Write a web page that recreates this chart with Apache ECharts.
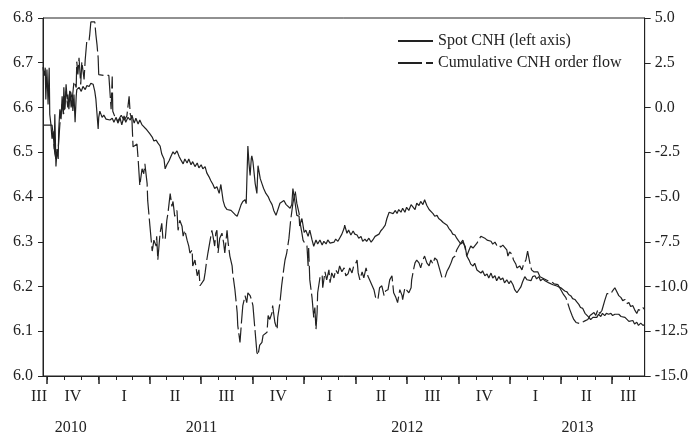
<!DOCTYPE html>
<html>
<head>
<meta charset="utf-8">
<script src="https://cdn.jsdelivr.net/npm/echarts@6/dist/echarts.min.js"></script>
<style>
html, body { margin: 0; padding: 0; background: #fff; }
#chart { width: 691px; height: 436px; }
</style>
</head>
<body>
<div id="chart"></div>
<script>
// first and last day shown on the chart
var firstDay = '2010-09-24';
var lastDay = '2013-08-28';

// spot CNH, [days since 24 Sep 2010, CNH per USD]
var spotCnh = [
  [0,6.690],[2,6.671],[4,6.689],[5,6.618],[7,6.685],[9,6.607],[11,6.689],[12,6.585],[14,6.563],[16,6.530],
  [18,6.547],[20,6.507],[21,6.585],[23,6.468],[25,6.507],[27,6.485],[28,6.552],[30,6.596],[32,6.574],[34,6.625],
  [36,6.585],[37,6.645],[39,6.596],[41,6.652],[43,6.618],[44,6.629],[46,6.596],[48,6.636],[50,6.600],[52,6.623],
  [53,6.592],[55,6.629],[57,6.567],[59,6.625],[60,6.640],[64,6.645],[68,6.636],[71,6.647],[75,6.640],[78,6.649],
  [82,6.647],[85,6.654],[87,6.658],[89,6.652],[92,6.636],[94,6.618],[96,6.585],[98,6.552],[99,6.578],[101,6.592],
  [105,6.578],[108,6.583],[112,6.574],[115,6.578],[119,6.572],[123,6.576],[126,6.567],[130,6.578],[133,6.565],[137,6.576],
  [140,6.561],[144,6.581],[147,6.567],[151,6.578],[155,6.572],[158,6.583],[162,6.565],[165,6.576],[169,6.563],[172,6.572],
  [176,6.561],[179,6.565],[183,6.552],[186,6.556],[190,6.541],[194,6.534],[197,6.525],[201,6.527],[204,6.521],[208,6.514],
  [211,6.496],[215,6.485],[217,6.463],[220,6.472],[224,6.481],[227,6.490],[231,6.501],[234,6.496],[238,6.503],[242,6.490],
  [245,6.483],[249,6.474],[252,6.485],[256,6.476],[259,6.485],[263,6.472],[266,6.479],[270,6.468],[274,6.476],[277,6.465],
  [281,6.472],[284,6.463],[288,6.468],[291,6.454],[295,6.445],[298,6.437],[302,6.428],[305,6.419],[309,6.423],[313,6.408],
  [316,6.428],[320,6.392],[323,6.379],[327,6.372],[330,6.368],[334,6.370],[337,6.366],[341,6.361],[345,6.357],[348,6.368],
  [352,6.383],[355,6.390],[359,6.394],[361,6.385],[364,6.514],[366,6.474],[368,6.448],[370,6.485],[371,6.492],[373,6.479],
  [377,6.430],[380,6.408],[382,6.470],[386,6.441],[389,6.430],[392,6.419],[396,6.408],[400,6.401],[403,6.392],[407,6.383],
  [410,6.370],[414,6.359],[417,6.363],[421,6.386],[424,6.390],[428,6.392],[432,6.383],[435,6.379],[439,6.375],[442,6.383],
  [444,6.419],[448,6.386],[451,6.359],[455,6.357],[456,6.335],[460,6.352],[464,6.321],[467,6.326],[471,6.312],[474,6.326],
  [478,6.304],[481,6.290],[485,6.304],[488,6.295],[492,6.304],[496,6.293],[499,6.301],[503,6.295],[506,6.304],[510,6.297],
  [513,6.301],[517,6.299],[520,6.306],[524,6.301],[527,6.308],[531,6.317],[535,6.330],[536,6.337],[540,6.319],[543,6.326],
  [547,6.315],[551,6.324],[554,6.317],[558,6.315],[561,6.308],[565,6.312],[568,6.301],[572,6.306],[575,6.301],[579,6.308],
  [583,6.299],[586,6.304],[590,6.312],[593,6.308],[597,6.317],[600,6.324],[604,6.330],[608,6.337],[611,6.352],[615,6.366],
  [618,6.368],[622,6.363],[626,6.370],[629,6.363],[632,6.372],[636,6.366],[639,6.375],[643,6.366],[646,6.377],[650,6.370],
  [654,6.383],[657,6.379],[661,6.372],[664,6.386],[668,6.381],[671,6.390],[675,6.383],[678,6.394],[682,6.381],[686,6.372],
  [689,6.368],[693,6.363],[696,6.357],[700,6.359],[703,6.352],[707,6.348],[711,6.343],[714,6.339],[718,6.337],[721,6.330],
  [725,6.324],[728,6.317],[732,6.315],[735,6.308],[739,6.301],[742,6.295],[746,6.299],[750,6.290],[753,6.268],[757,6.259],
  [760,6.250],[764,6.246],[767,6.252],[771,6.237],[774,6.241],[778,6.230],[781,6.235],[785,6.224],[789,6.228],[792,6.219],
  [796,6.230],[799,6.219],[803,6.224],[806,6.213],[810,6.222],[813,6.215],[817,6.219],[820,6.208],[824,6.215],[828,6.206],
  [831,6.213],[835,6.204],[838,6.193],[842,6.186],[845,6.190],[849,6.199],[852,6.210],[856,6.222],[860,6.215],[863,6.219],
  [867,6.213],[870,6.222],[874,6.224],[877,6.217],[881,6.222],[884,6.213],[888,6.217],[892,6.213],[895,6.215],[899,6.208],
  [902,6.210],[906,6.204],[909,6.206],[913,6.201],[916,6.204],[920,6.197],[923,6.195],[927,6.190],[931,6.188],[934,6.182],
  [938,6.179],[941,6.173],[945,6.171],[948,6.166],[952,6.160],[955,6.153],[959,6.151],[963,6.140],[966,6.142],[970,6.131],
  [973,6.126],[977,6.131],[980,6.135],[984,6.131],[987,6.138],[991,6.133],[994,6.140],[998,6.135],[1001,6.140],[1005,6.138],
  [1009,6.140],[1012,6.135],[1016,6.138],[1019,6.135],[1023,6.138],[1027,6.133],[1030,6.135],[1034,6.131],[1037,6.129],[1041,6.122],
  [1044,6.118],[1048,6.124],[1051,6.116],[1055,6.120],[1058,6.113],[1062,6.118],[1066,6.113],[1069,6.115]
];

// cumulative CNH order flow, [days since 24 Sep 2010, value]
var orderFlow = [
  [0,-0.98],[16,-0.98],[18,-1.48],[21,-2.59],[23,-2.87],[27,-2.31],[30,-0.93],[34,0.18],[37,-0.37],[41,0.90],
  [44,0.00],[48,1.01],[52,0.46],[55,1.45],[59,1.12],[60,2.56],[62,1.84],[64,2.78],[67,1.29],[69,2.56],
  [73,1.57],[75,2.67],[78,3.78],[82,3.78],[83,4.06],[85,4.78],[92,4.78],[94,4.06],[96,3.50],[98,2.78],
  [99,1.84],[108,1.79],[117,1.79],[119,1.68],[121,-0.10],[123,1.73],[124,-0.21],[128,-0.54],[133,-0.76],[139,-0.43],
  [144,-0.71],[149,-0.48],[153,0.62],[155,-0.37],[158,-0.65],[160,-2.20],[163,-2.31],[167,-2.04],[169,-2.87],[172,-4.36],
  [176,-3.42],[179,-3.70],[181,-3.14],[185,-4.25],[186,-5.19],[190,-6.63],[194,-8.02],[195,-7.85],[197,-7.41],[201,-7.74],
  [202,-7.19],[204,-8.52],[208,-7.02],[211,-6.47],[213,-7.30],[217,-7.41],[220,-6.30],[222,-5.91],[226,-4.81],[229,-5.53],
  [231,-5.25],[234,-6.08],[238,-5.75],[240,-6.86],[243,-6.30],[247,-6.63],[249,-7.19],[252,-6.86],[256,-7.41],[259,-7.74],
  [261,-8.13],[265,-7.96],[266,-8.85],[270,-8.52],[274,-9.40],[277,-9.07],[279,-9.96],[282,-10.07],[286,-9.63],[288,-9.24],
  [291,-8.52],[293,-8.13],[297,-7.41],[300,-6.86],[302,-7.19],[305,-7.74],[307,-7.02],[309,-6.86],[311,-8.13],[314,-7.30],
  [318,-7.02],[321,-7.58],[323,-8.13],[327,-6.86],[329,-7.58],[332,-8.30],[336,-8.85],[337,-9.24],[341,-10.18],[345,-11.45],
  [346,-12.17],[350,-13.12],[353,-11.84],[355,-11.07],[359,-10.51],[362,-10.90],[364,-10.35],[368,-10.51],[371,-10.79],[373,-11.07],
  [377,-12.56],[380,-13.67],[382,-13.84],[385,-13.28],[389,-13.12],[391,-12.73],[394,-12.84],[398,-12.56],[400,-11.62],[403,-11.84],
  [407,-11.45],[408,-11.07],[412,-12.01],[416,-12.40],[417,-11.73],[421,-10.90],[424,-9.96],[428,-8.96],[430,-8.52],[433,-8.13],
  [437,-7.30],[440,-6.30],[444,-5.36],[448,-4.64],[451,-5.36],[455,-5.91],[456,-6.30],[460,-7.02],[462,-7.41],[465,-7.58],
  [469,-7.74],[471,-8.85],[472,-7.85],[474,-9.63],[478,-10.62],[481,-11.73],[483,-11.18],[485,-12.40],[487,-11.45],[488,-10.35],
  [492,-9.52],[496,-9.35],[497,-10.07],[501,-9.18],[504,-9.63],[508,-9.07],[510,-9.79],[513,-9.24],[517,-9.52],[520,-9.07],
  [524,-9.29],[527,-8.85],[531,-9.18],[535,-8.96],[538,-9.40],[542,-9.29],[545,-8.96],[549,-9.24],[552,-8.85],[556,-8.68],
  [558,-8.52],[560,-9.24],[563,-9.63],[567,-9.18],[570,-9.52],[574,-8.96],[577,-9.40],[581,-9.68],[584,-9.63],[588,-10.18],
  [591,-10.62],[595,-10.73],[598,-10.07],[602,-9.96],[606,-10.51],[609,-10.24],[613,-10.18],[616,-9.63],[620,-9.40],[623,-10.35],
  [627,-10.62],[630,-10.90],[634,-10.18],[638,-10.51],[639,-10.73],[643,-10.07],[646,-9.96],[650,-10.35],[654,-10.07],[655,-9.63],
  [659,-8.96],[661,-8.68],[664,-8.52],[668,-8.68],[671,-8.96],[675,-8.52],[678,-8.30],[682,-8.68],[686,-8.85],[689,-8.52],
  [693,-8.74],[696,-8.41],[700,-8.52],[703,-8.85],[705,-9.07],[709,-9.52],[711,-9.63],[714,-9.52],[718,-9.13],[721,-8.96],
  [725,-8.68],[728,-8.41],[732,-8.30],[735,-7.96],[739,-7.74],[742,-7.58],[746,-7.41],[750,-7.85],[753,-8.30],[757,-7.96],
  [760,-7.74],[764,-7.85],[767,-7.96],[771,-7.58],[774,-7.41],[778,-7.19],[781,-7.13],[785,-7.30],[789,-7.41],[792,-7.52],
  [796,-7.47],[799,-7.63],[803,-7.52],[806,-7.69],[810,-7.63],[813,-7.80],[817,-7.69],[820,-7.63],[824,-7.96],[826,-8.30],
  [829,-8.07],[833,-8.19],[836,-8.52],[840,-8.74],[842,-8.96],[847,-8.85],[851,-9.07],[854,-8.74],[858,-8.52],[861,-8.02],
  [865,-8.68],[868,-9.07],[872,-9.18],[875,-9.29],[879,-9.18],[883,-9.46],[886,-9.40],[890,-9.57],[893,-9.52],[897,-9.68],
  [900,-9.63],[904,-9.74],[908,-9.85],[911,-9.79],[915,-9.90],[918,-10.07],[922,-10.29],[925,-10.46],[929,-10.62],[932,-10.90],
  [936,-11.29],[940,-11.62],[943,-11.84],[947,-12.01],[950,-12.12],[954,-12.07],[957,-12.12],[961,-11.95],[964,-12.01],[968,-11.84],
  [972,-11.62],[975,-11.73],[979,-11.45],[982,-11.62],[986,-11.29],[989,-11.51],[993,-11.34],[996,-11.29],[998,-10.79],[1002,-10.40],
  [1005,-10.35],[1009,-10.40],[1012,-10.24],[1016,-10.07],[1019,-10.18],[1023,-10.51],[1027,-10.62],[1030,-10.79],[1034,-10.73],[1037,-10.96],
  [1041,-10.90],[1044,-11.12],[1048,-11.07],[1051,-11.29],[1055,-11.51],[1058,-11.29],[1062,-11.34],[1066,-11.18],[1069,-11.29]
];

var quarterNames = ['III', 'IV', 'I', 'II', 'III', 'IV', 'I', 'II', 'III', 'IV', 'I', 'II', 'III'];
var yearNames = ['2010', '2011', '2012', '2013'];

var DAY = 864e5;
var t0 = Date.parse(firstDay);
var t1 = Date.parse(lastDay);
var font = "'Liberation Serif', 'Times New Roman', serif";
var ink = '#222';

function toTime(list) {
  return list.map(function (p) { return [t0 + p[0] * DAY, p[1]]; });
}

// month and quarter boundaries for the ticks, middles of quarters / years for the labels
var monthTicks = [], quarterTicks = [], quarterMids = [], yearMids = [];
for (var y = 2010; y <= 2013; y++) {
  for (var m = 0; m < 12; m++) {
    var t = Date.UTC(y, m, 1);
    if (t > t0 && t < t1) {
      monthTicks.push(t);
      if (m % 3 === 0) quarterTicks.push(t);
    }
  }
  for (var q = 0; q < 4; q++) {
    var a = Math.max(Date.UTC(y, q * 3, 1), t0);
    var b = Math.min(Date.UTC(y, q * 3 + 3, 1), t1);
    if (b > a) quarterMids.push(Math.round((a + b) / 2));
  }
  var ya = Math.max(Date.UTC(y, 0, 1), t0), yb = Math.min(Date.UTC(y + 1, 0, 1), t1);
  yearMids.push(Math.round((ya + yb) / 2));
}

var quarterText = {}, yearText = {};
quarterMids.forEach(function (t, i) { quarterText[t] = i === 0 ? '{first|' + quarterNames[i] + '}' : quarterNames[i]; });
yearMids.forEach(function (t, i) { yearText[t] = yearNames[i]; });

var labelStyle = { color: ink, fontSize: 16, fontFamily: font };

function baseX(extra) {
  var ax = {
    type: 'value', min: t0, max: t1, position: 'bottom',
    axisLine: { show: false, onZero: false },
    axisTick: { show: false },
    axisLabel: { show: false },
    splitLine: { show: false }
  };
  return Object.assign(ax, extra);
}

var chart = echarts.init(document.getElementById('chart'));
chart.setOption({
  animation: false,
  backgroundColor: '#fff',
  textStyle: { fontFamily: font },
  grid: { left: 43, right: 46, top: 18, bottom: 57, show: true, borderColor: ink, borderWidth: 1 },
  legend: {
    orient: 'vertical', left: 392, top: 28,
    itemWidth: 35, itemHeight: 14, itemGap: 6,
    itemStyle: { opacity: 0 },
    textStyle: labelStyle,
    data: ['Spot CNH (left axis)', 'Cumulative CNH order flow']
  },
  xAxis: [
    baseX({
      axisLine: { show: true, onZero: false, lineStyle: { color: ink, width: 1 } },
      axisTick: { show: true, length: 8, customValues: quarterTicks, lineStyle: { color: ink, width: 1.5 } }
    }),
    baseX({
      axisTick: { show: true, length: 4, customValues: monthTicks, lineStyle: { color: ink, width: 1 } }
    }),
    baseX({
      axisLabel: Object.assign({
        show: true, margin: 13, customValues: quarterMids, showMinLabel: true, showMaxLabel: true,
        formatter: function (v) { return quarterText[v] || ''; },
        rich: { first: { fontSize: 16, fontFamily: font, color: ink, padding: [0, 12, 0, 0] } }
      }, labelStyle)
    }),
    baseX({
      axisLabel: Object.assign({
        show: true, margin: 44, customValues: yearMids, showMinLabel: true, showMaxLabel: true,
        formatter: function (v) { return yearText[v] || ''; }
      }, labelStyle)
    })
  ],
  yAxis: [
    {
      type: 'value', min: 6.0, max: 6.8, interval: 0.1, position: 'left',
      axisLine: { show: true, onZero: false, lineStyle: { color: ink } },
      axisTick: { show: true, length: 5, lineStyle: { color: ink } },
      axisLabel: Object.assign({ margin: 10, formatter: function (v) { return v.toFixed(1); } }, labelStyle),
      splitLine: { show: false }
    },
    {
      type: 'value', min: -15, max: 5, interval: 2.5, position: 'right',
      axisLine: { show: true, onZero: false, lineStyle: { color: ink } },
      axisTick: { show: true, length: 6, lineStyle: { color: ink } },
      axisLabel: Object.assign({ margin: 10, formatter: function (v) { return v.toFixed(1); } }, labelStyle),
      splitLine: { show: false }
    }
  ],
  series: [
    {
      name: 'Spot CNH (left axis)', type: 'line', xAxisIndex: 0, yAxisIndex: 0,
      symbol: 'none', data: toTime(spotCnh),
      lineStyle: { color: ink, width: 1.2 }, itemStyle: { color: ink }
    },
    {
      name: 'Cumulative CNH order flow', type: 'line', xAxisIndex: 0, yAxisIndex: 1,
      symbol: 'none', data: toTime(orderFlow),
      lineStyle: { color: ink, width: 1.2, type: [24, 4] }, itemStyle: { color: ink }
    }
  ]
});
</script>
</body>
</html>
